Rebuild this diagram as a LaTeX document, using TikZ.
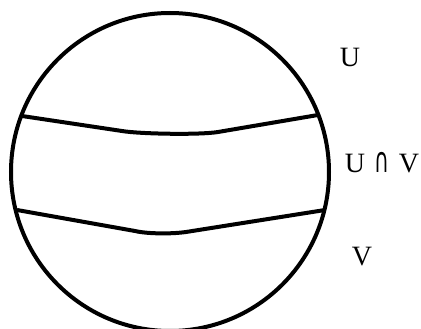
\documentclass[tikz,border=0pt]{standalone}
\usepackage{fontspec}
\usepackage{graphicx}
\setmainfont{Liberation Serif}
\newfontfamily\symfont{DejaVu Sans}
\begin{document}
\begin{tikzpicture}[x=1pt,y=-1pt,
  stroke/.style={line width=4pt,black},
  lbl/.style={font=\fontsize{28}{32}\selectfont,inner sep=0pt,anchor=center}]
\useasboundingbox (0,0) rectangle (421,329);
\begin{scope}
\clip (0,0) rectangle (421,329);
\node[draw,stroke,circle,minimum size=318pt,inner sep=0pt] (ball) at (170,172) {};
\end{scope}
\coordinate (u1) at (22,116);
\coordinate (u2) at (318,115);
\coordinate (v1) at (17,210);
\coordinate (v2) at (325,210);
\draw[stroke,line join=round] (u1) -- (122,131) .. controls (140,134) and (200,135) .. (218,132) -- (u2);
\draw[stroke,line join=round] (v1) -- (135,231) .. controls (148,234) and (172,234) .. (186,232) -- (v2);
\node[lbl] (U) at (350,57) {U};
\node[lbl] (UV) at (382,163) {U\,\,{\symfont\fontsize{24}{28}\selectfont\scalebox{0.85}[1.45]{∩}}\,\,V};
\node[lbl] (V) at (362,257) {V};
\end{tikzpicture}
\end{document}
